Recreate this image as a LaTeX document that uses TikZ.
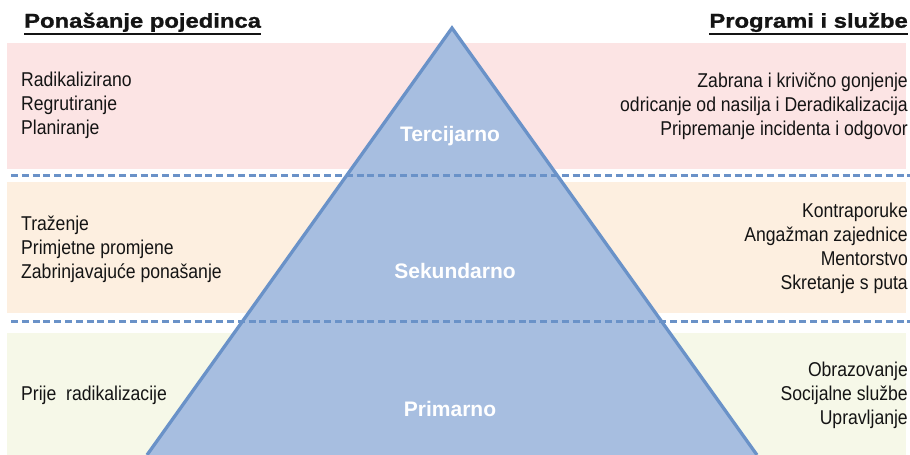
\documentclass[tikz,border=0pt]{standalone}
\usepackage{fontspec}
\setmainfont{Liberation Sans}
\newfontfamily\bodyfont[FakeStretch=0.88]{Liberation Sans}
\newfontfamily\headfont[FakeStretch=1.19,FakeBold=1.2]{Liberation Sans}
\definecolor{pinkband}{HTML}{FCE4E4}
\definecolor{peachband}{HTML}{FDEFE0}
\definecolor{greenband}{HTML}{F6F8E8}
\definecolor{pyrfill}{HTML}{A7BEE0}
\definecolor{pyrline}{HTML}{6A92C8}
\definecolor{txt}{HTML}{141414}
\begin{document}
\begin{tikzpicture}[x=1pt,y=-1pt,
  divider/.style={pyrline,line width=3pt,dash pattern=on 7pt off 3.8pt},
  item/.style={inner sep=0pt,text=txt,font=\bodyfont\fontsize{20}{24}\selectfont},
  iteml/.style={item,anchor=base west},
  itemr/.style={item,anchor=base east},
  header/.style={inner sep=0pt,text=txt,font=\headfont\bfseries\fontsize{20}{22}\selectfont},
  uline/.style={txt,line width=2pt},
  level/.style={inner sep=0pt,anchor=base,text=white,font=\bfseries\fontsize{21}{24}\selectfont}]
\useasboundingbox (0,0) rectangle (910,455);
\clip (0,0) rectangle (910,455);
% bands
\fill[pinkband] (7,43) rectangle (906,169);
\fill[peachband] (7,182) rectangle (906,313);
\fill[greenband] (7,333) rectangle (906,455);
% pyramid
\coordinate (apex) at (452,28);
\coordinate (bl) at (147,455);
\coordinate (br) at (757,455);
\fill[pyrfill] (apex) -- (bl) -- (br) -- cycle;
\draw[pyrline,line width=3.3pt,line join=miter] (bl) -- (apex) -- (br);
% dividers
\coordinate (d1a) at (11,175);
\coordinate (d1b) at (910,175);
\coordinate (d2a) at (11,321);
\coordinate (d2b) at (910,321);
\draw[divider] (d1a) -- (d1b);
\draw[divider] (d2a) -- (d2b);
% headers
\node[header,anchor=base west] (hl) at (24,27.7) {Ponašanje pojedinca};
\node[header,anchor=base east] (hr) at (908,27.7) {Programi i službe};
\draw[uline] ([yshift=-6.5pt]hl.base west) -- ([yshift=-6.5pt]hl.base east);
\draw[uline] ([yshift=-6.5pt]hr.base west) -- ([yshift=-6.5pt]hr.base east);
% level labels
\node[level] (t3) at (450,141.7) {Tercijarno};
\node[level] (t2) at (455,278) {Sekundarno};
\node[level] (t1) at (450,416.7) {Primarno};
% left items
\node[iteml] (a1) at (21,86.7) {Radikalizirano};
\node[iteml] (a2) at (21,110.5) {Regrutiranje};
\node[iteml] (a3) at (21,134.3) {Planiranje};
\node[iteml] (b1) at (21,230) {Traženje};
\node[iteml] (b2) at (21,254) {Primjetne promjene};
\node[iteml] (b3) at (21,278) {Zabrinjavajuće ponašanje};
\node[iteml] (c1) at (21,400.7) {Prije\ \ radikalizacije};
% right items
\node[itemr] (r1) at (908,87.5) {Zabrana i krivično gonjenje};
\node[itemr] (r2) at (908,111.3) {odricanje od nasilja i Deradikalizacija};
\node[itemr] (r3) at (908,135) {Pripremanje incidenta i odgovor};
\node[itemr] (s1) at (908,217.5) {Kontraporuke};
\node[itemr] (s2) at (908,241.5) {Angažman zajednice};
\node[itemr] (s3) at (908,265.5) {Mentorstvo};
\node[itemr] (s4) at (908,289.5) {Skretanje s puta};
\node[itemr] (u1) at (908,376.5) {Obrazovanje};
\node[itemr] (u2) at (908,400.5) {Socijalne službe};
\node[itemr] (u3) at (908,424.3) {Upravljanje};
\end{tikzpicture}
\end{document}
